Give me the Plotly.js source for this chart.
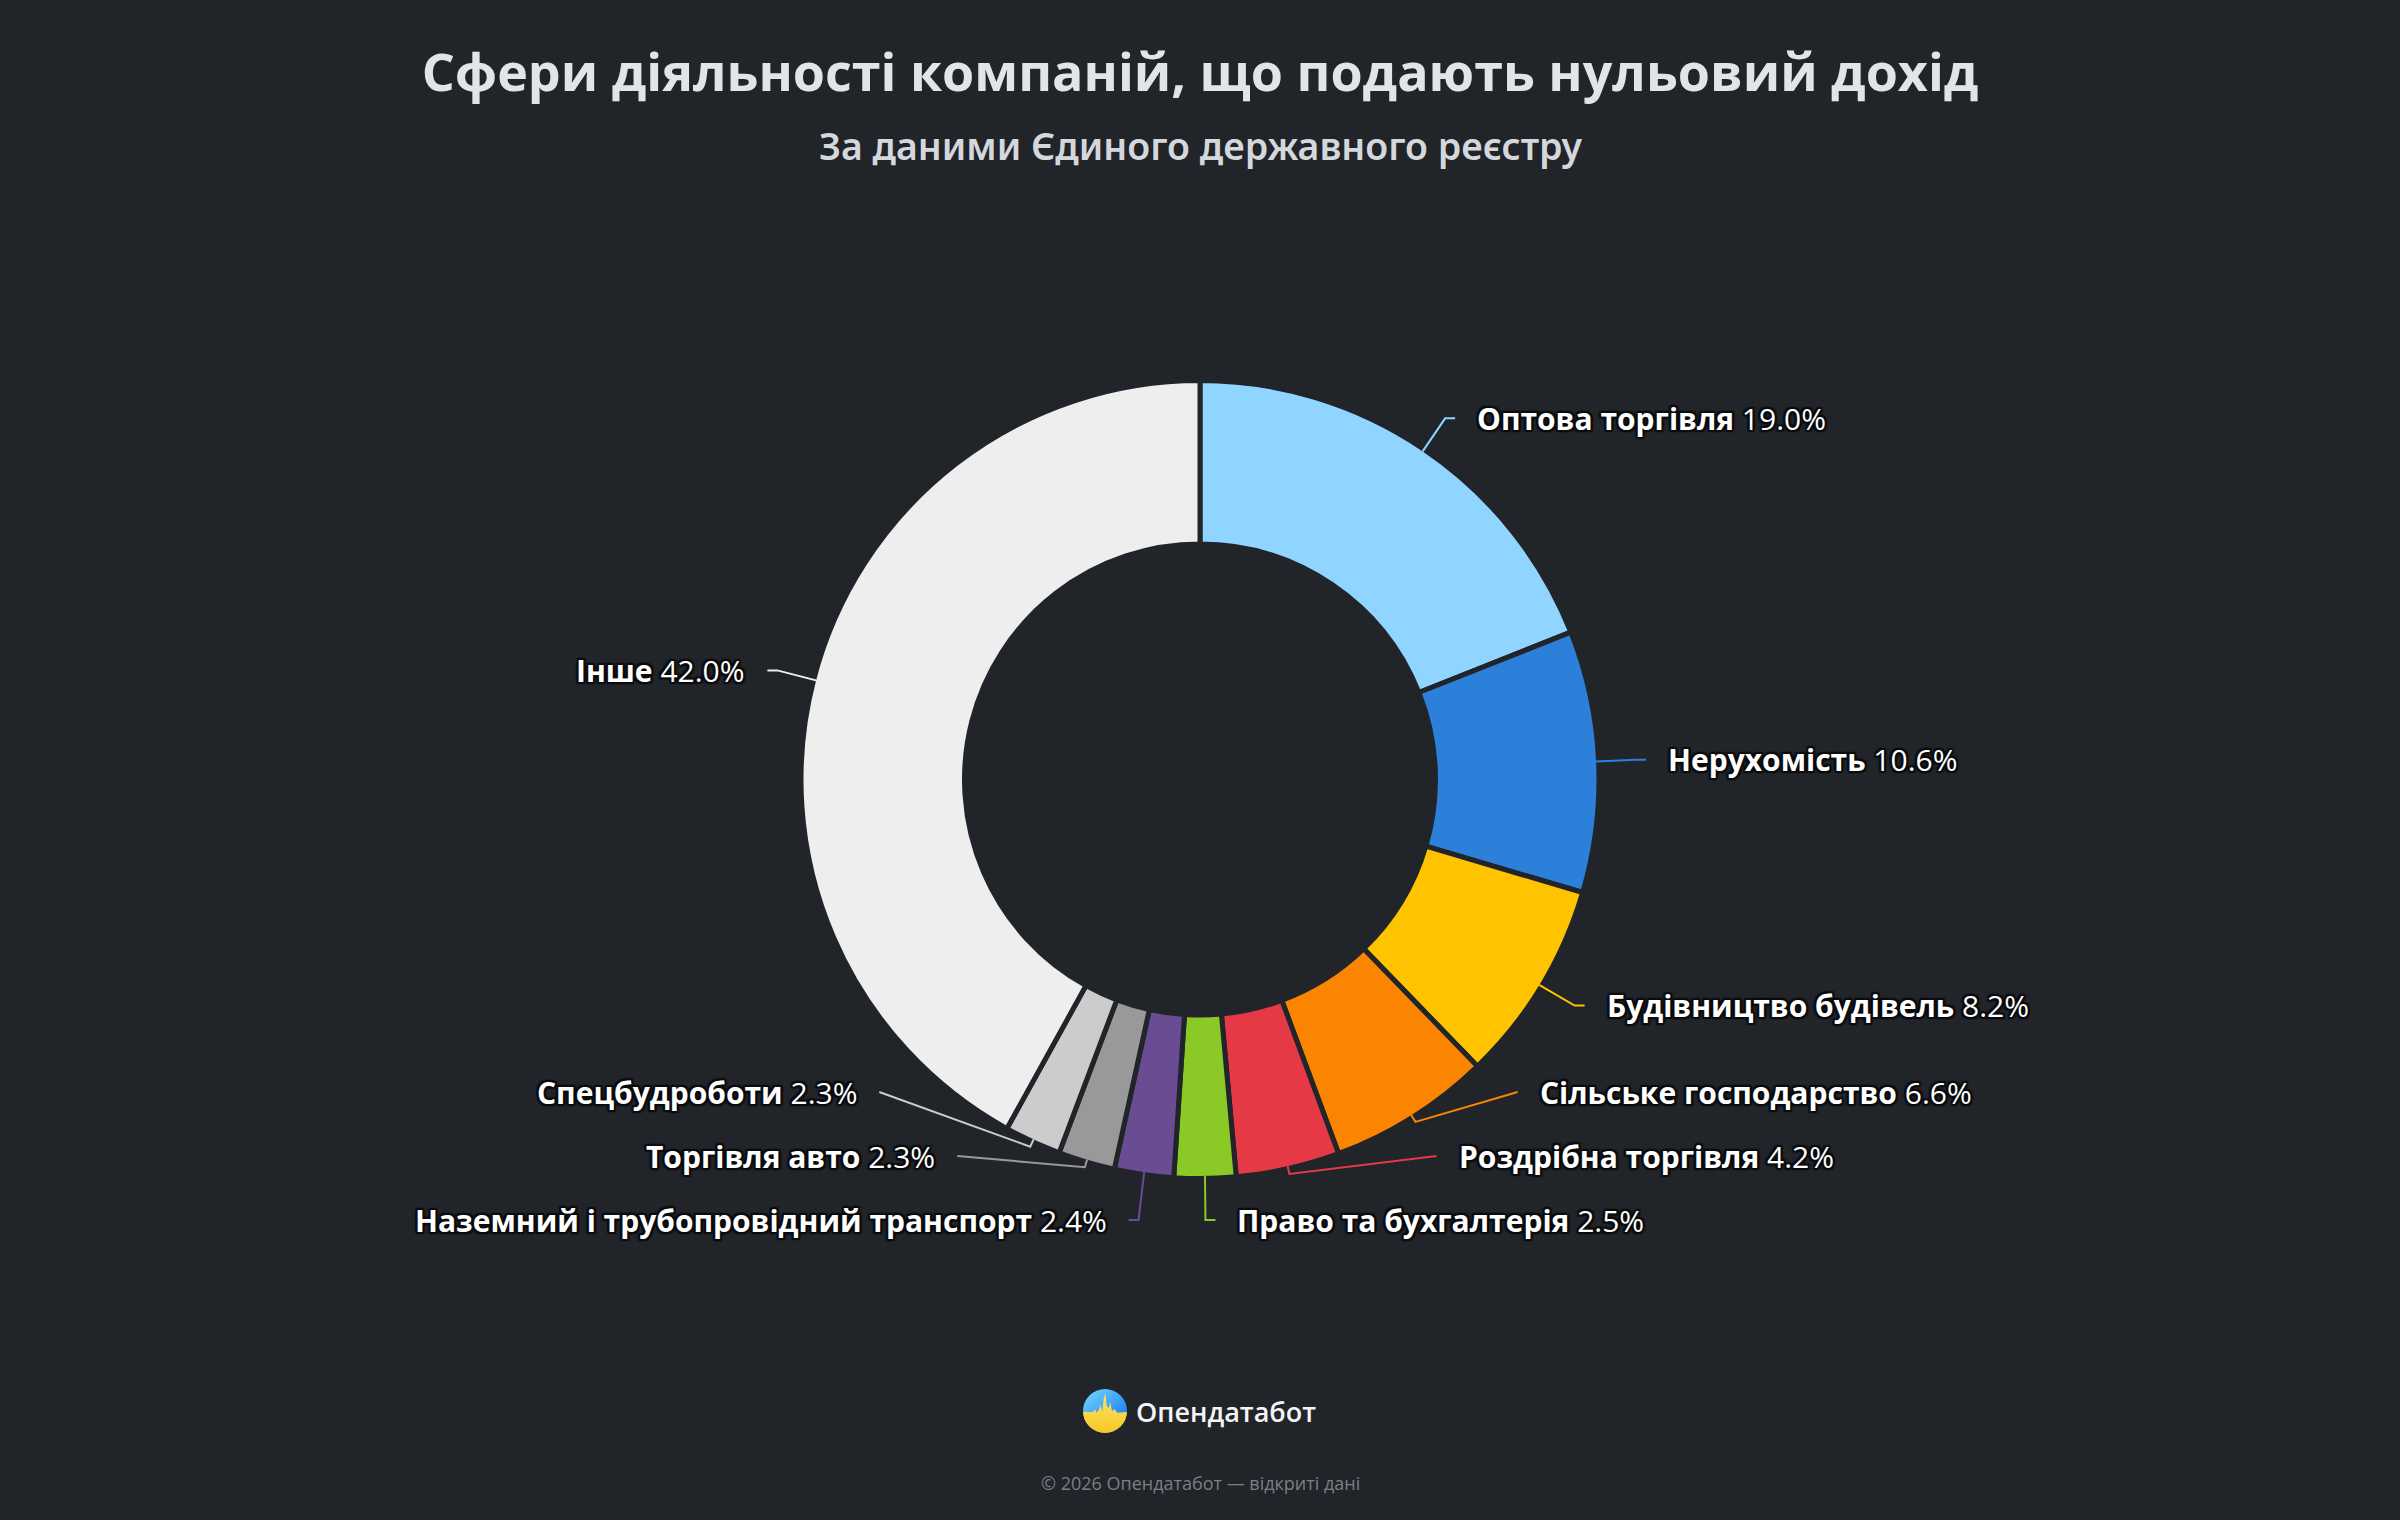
<!DOCTYPE html>
<html>
<head>
<meta charset="utf-8">
<script src="https://cdn.plot.ly/plotly-3.0.1.min.js"></script>
<style>
  html, body { margin: 0; padding: 0; background: #212429; }
  #chart { width: 2400px; height: 1520px; }
</style>
</head>
<body>
<div id="chart"></div>
<script>
// Sectors of companies filing zero income (share of all such companies, %)
const sectors = [
  'Оптова торгівля',
  'Нерухомість',
  'Будівництво будівель',
  'Сільське господарство',
  'Роздрібна торгівля',
  'Право та бухгалтерія',
  'Наземний і трубопровідний транспорт',
  'Торгівля авто',
  'Спецбудроботи',
  'Інше'
];
const shares = [19.0, 10.6, 8.2, 6.6, 4.2, 2.5, 2.4, 2.3, 2.3, 42.0];

const palette = ['#8fd5ff', '#2d80d9', '#ffc300', '#fb8500', '#e63946',
                 '#8ac926', '#6a4c93', '#999999', '#cccccc', '#eeeeee'];

const chartTitle = 'Сфери діяльності компаній, що подають нульовий дохід';
const chartSubtitle = 'За даними Єдиного державного реєстру';
const brandName = 'Опендатабот';
const footerText = '© 2026 Опендатабот — відкриті дані';

// ---- page geometry (pixels) ----
const W = 2400, H = 1520;
const BG = '#212429';
const FONT = '"Open Sans", "Noto Sans", sans-serif';
const CX = 1200, CY = 779.5;      // donut centre
const R = 399;                    // pie radius handed to plotly
const GAP = 5;                    // slice separator width
const R_VIS = R - GAP / 2;        // visible outer edge
const HOLE = (238 - GAP / 2) / R;
const LEN1 = 40, LEN2 = 10, DIST = 20;   // leader line pieces
const LABEL_H = 64;                       // vertical room per label
const LABEL_MIN_Y = 200, LABEL_MAX_Y = 1220;

const px = x => x / W;
const py = y => 1 - y / H;

// ---- outside label layout, computed from the slice angles ----
const total = shares.reduce((a, b) => a + b, 0);
let cum = 0;
const items = shares.map((v, i) => {
  const theta = (cum + v / 2) / total * 2 * Math.PI;   // clockwise from 12 o'clock
  cum += v;
  const ux = Math.sin(theta), uy = -Math.cos(theta);
  const edge = [CX + R_VIS * ux, CY + R_VIS * uy];
  const elbow = [edge[0] + LEN1 * ux, edge[1] + LEN1 * uy];
  return { i, ux, uy, edge, elbow, dir: ux >= 0 ? 1 : -1, y: elbow[1] };
});

function layoutSide(list) {
  list.sort((a, b) => a.y - b.y);
  let shifted = false;
  for (let k = 0; k < list.length; k++) {
    const lo = k === 0 ? LABEL_MIN_Y : list[k - 1].y + LABEL_H;
    if (list[k].y < lo) { list[k].y = lo; shifted = true; }
  }
  for (let k = list.length - 1; k >= 0; k--) {
    const hi = k === list.length - 1 ? LABEL_MAX_Y : list[k + 1].y - LABEL_H;
    if (list[k].y > hi) { list[k].y = hi; shifted = true; }
  }
  const rA = R_VIS + LEN1;
  // default horizontal reach: straight from the elbow
  list.forEach(it => { it.reach = rA * Math.abs(it.ux); });
  if (shifted) {
    // keep shifted labels on an ellipse hugging the donut
    [list.filter(it => it.y <= CY), list.filter(it => it.y > CY)].forEach(semi => {
      if (!semi.length) return;
      let far = semi[0];
      semi.forEach(it => { if (Math.abs(it.y - CY) >= Math.abs(far.y - CY)) far = it; });
      const dxF = rA * Math.abs(far.ux), dyF = Math.abs(far.y - CY);
      const rB = dxF < rA ? dyF / Math.sqrt(1 - (dxF * dxF) / (rA * rA)) : rA;
      semi.forEach(it => {
        const dy = Math.abs(it.y - CY);
        it.reach = rA * Math.sqrt(Math.max(0, 1 - (dy * dy) / (rB * rB)));
      });
    });
  }
}
layoutSide(items.filter(it => it.dir > 0));
layoutSide(items.filter(it => it.dir < 0));

const shapes = [];
const annotations = [];
items.forEach(it => {
  const textX = CX + it.dir * (it.reach + LEN2 + DIST);
  const p2 = [textX - it.dir * DIST, it.y];
  let p1 = [p2[0] - it.dir * LEN2, it.y];
  // when the label sits far off its natural spot, leave the ring radially first
  const vx = p1[0] - it.edge[0], vy = p1[1] - it.edge[1];
  const vl = Math.hypot(vx, vy) || 1;
  const cosSurf = (vx * it.ux + vy * it.uy) / vl;
  if (cosSurf < Math.cos(Math.PI / 4)) {
    p1 = [it.edge[0] + 8 * it.ux, it.edge[1] + 8 * it.uy];
  }
  const pts = [it.edge, p1, p2];
  shapes.push({
    type: 'path', xref: 'paper', yref: 'paper', layer: 'above',
    path: 'M' + pts.map(p => px(p[0]).toFixed(5) + ',' + py(p[1]).toFixed(5)).join(' L'),
    line: { color: palette[it.i], width: 2 }
  });
  annotations.push({
    xref: 'paper', yref: 'paper', showarrow: false,
    x: px(textX), y: py(it.y),
    xanchor: it.dir > 0 ? 'left' : 'right', yanchor: 'middle',
    text: '<b>' + sectors[it.i] + '</b> ' + shares[it.i].toFixed(1) + '%',
    font: {
      family: FONT, size: 30, color: '#ffffff',
      shadow: '2px 2px 1px #0b0c0e, -2px 2px 1px #0b0c0e, 2px -2px 1px #0b0c0e, -2px -2px 1px #0b0c0e, 0 2px 1px #0b0c0e, 0 -2px 1px #0b0c0e, 2px 0 1px #0b0c0e, -2px 0 1px #0b0c0e'
    }
  });
});

// subtitle, brand line and footer
annotations.push({
  xref: 'paper', yref: 'paper', showarrow: false,
  x: 0.5, y: py(145), xanchor: 'center', yanchor: 'middle',
  text: chartSubtitle,
  font: { family: '"Noto Sans", "Open Sans", sans-serif', size: 37.5, color: '#d4d7dc', weight: 600 }
});
annotations.push({
  xref: 'paper', yref: 'paper', showarrow: false,
  x: px(1134), y: py(1411), xanchor: 'left', yanchor: 'middle',
  text: brandName,
  font: { family: FONT, size: 27, color: '#f3f4f6', weight: 600 }
});
annotations.push({
  xref: 'paper', yref: 'paper', showarrow: false,
  x: 0.5, y: py(1483), xanchor: 'center', yanchor: 'middle',
  text: footerText,
  font: { family: FONT, size: 18, color: '#7b7f86' }
});

// brand mark: round badge, blue sky over a yellow pulse line
const logoSvg =
  "<svg xmlns='http://www.w3.org/2000/svg' viewBox='0 0 100 100'>" +
  "<defs><linearGradient id='sky' x1='0.2' y1='0' x2='0.8' y2='0.7'>" +
  "<stop offset='0' stop-color='#6fd0ff'/><stop offset='1' stop-color='#1f86f0'/></linearGradient>" +
  "<linearGradient id='sun' x1='0' y1='0' x2='0' y2='1'>" +
  "<stop offset='0' stop-color='#ffe36b'/><stop offset='1' stop-color='#f7c823'/></linearGradient>" +
  "<clipPath id='c'><circle cx='50' cy='50' r='50'/></clipPath></defs>" +
  "<g clip-path='url(#c)'><rect width='100' height='100' fill='url(#sky)'/>" +
  "<path d='M0 52 L22 52 L27 46 L31 54 L36 48 L40 36 L44 52 L47 22 L51 10 L54 38 L58 44 L62 30 L66 50 L72 46 L78 54 L100 52 L100 100 L0 100 Z' fill='url(#sun)'/></g>" +
  "</svg>";

const trace = {
  type: 'pie',
  labels: sectors,
  values: shares,
  sort: false,
  direction: 'clockwise',
  rotation: 0,
  hole: HOLE,
  textinfo: 'none',
  hoverinfo: 'label+percent',
  marker: { colors: palette, line: { color: BG, width: GAP } },
  domain: {
    x: [px(CX - R), px(CX + R)],
    y: [py(CY + R), py(CY - R)]
  },
  showlegend: false
};

const layout = {
  width: W, height: H,
  margin: { l: 0, r: 0, t: 0, b: 0 },
  paper_bgcolor: BG, plot_bgcolor: BG,
  showlegend: false,
  title: {
    text: '<b>' + chartTitle + '</b>',
    font: { family: FONT, size: 52, color: '#e2e4e8' },
    x: 0.5, xanchor: 'center',
    xref: 'paper', yref: 'container',
    y: py(73), yanchor: 'middle'
  },
  shapes: shapes,
  annotations: annotations,
  images: [{
    source: 'data:image/svg+xml;charset=utf-8,' + encodeURIComponent(logoSvg),
    xref: 'paper', yref: 'paper',
    x: px(1105), y: py(1411), sizex: 44 / W, sizey: 44 / H,
    xanchor: 'center', yanchor: 'middle', sizing: 'contain', layer: 'above'
  }]
};

Plotly.newPlot('chart', [trace], layout, { displayModeBar: false, responsive: false });
</script>
</body>
</html>
